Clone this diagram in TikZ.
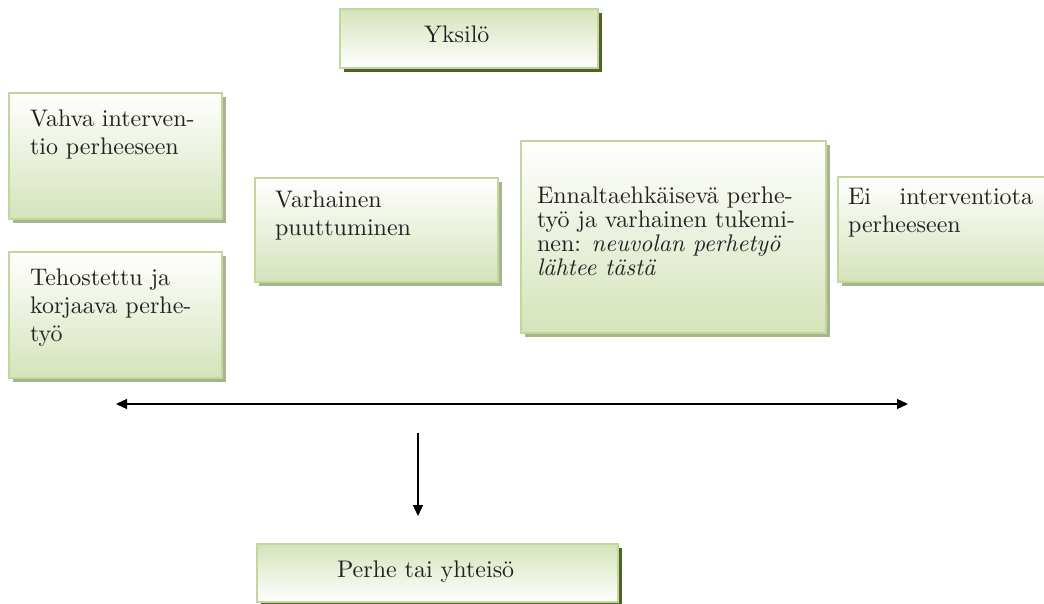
\documentclass[tikz,border=0pt]{standalone}
\usepackage{fontspec}
\setmainfont{lmroman10}[Extension=.otf, UprightFont=*-regular, ItalicFont=*-italic, BoldFont=*-bold, BoldItalicFont=*-bolditalic]
\usetikzlibrary{shadows,arrows.meta}
\definecolor{boxgreen}{HTML}{D5E3BA}
\definecolor{boxborder}{HTML}{C3D69B}
\definecolor{shadowmid}{HTML}{A9B48F}
\definecolor{shadowdark}{HTML}{4F6228}
\definecolor{txt}{HTML}{222222}
% #1 width, #2 height, #3 left padding, #4 first baseline offset, #5 text
\newcommand\bx[5]{\hspace*{#3pt}\parbox[c][#2pt][t]{\dimexpr#1pt-#3pt\relax}{\vspace*{\dimexpr#4pt-16.6pt\relax}\raggedright #5}}
\tikzset{
  box/.style={draw=boxborder, line width=1.5pt, inner sep=0pt, outer sep=0pt,
    font=\fontsize{24}{28}\selectfont, text=txt, anchor=north west},
  midbox/.style={box, top color=white, bottom color=boxgreen,
    drop shadow={shadow xshift=4pt, shadow yshift=-4pt, fill=shadowmid, opacity=1}},
  endbox/.style={box, top color=boxgreen, bottom color=white,
    drop shadow={shadow xshift=4pt, shadow yshift=-4pt, fill=shadowdark, opacity=1}},
  arr/.style={line width=1.3pt, black}
}
\begin{document}
\begin{tikzpicture}[x=1pt,y=-1pt]
\useasboundingbox[fill=white] (0,0) rectangle (1044,604);

\node[endbox] (yksilo) at (340,9) {\bx{258}{59}{84}{33}{Yksilö}};

\node[midbox] (vahva) at (9,93) {\bx{213}{126}{21}{33}{Vahva interven-\\tio perheeseen}};
\node[midbox] (tehostettu) at (9,252) {\bx{213}{126}{21}{33}{Tehostettu ja\\korjaava perhe-\\työ}};
\node[midbox] (varhainen) at (255,178) {\bx{243}{104}{20}{29}{Varhainen\\puuttuminen}};
\node[midbox] (ennalta) at (521,141) {\bx{305}{192}{16}{62}{\fontsize{24}{24}\selectfont Ennaltaehkäisevä perhe-\\työ ja varhainen tukemi-\\nen: \textit{neuvolan perhetyö}\\\textit{lähtee tästä}}};
\node[midbox] (ei) at (838,177) {\bx{215}{105}{10}{28}{\makebox[185pt][s]{Ei\hfill interventiota}\\perheeseen}};

\node[endbox] (perhe) at (257,544) {\bx{361}{58}{80}{33}{Perhe tai yhteisö}};

\coordinate (hleft) at (116,404);
\coordinate (hright) at (908,404);
\draw[arr, {Triangle[length=11pt,width=10pt]}-{Triangle[length=11pt,width=10pt]}] (hleft) -- (hright);

\coordinate (vtop) at (418,433);
\coordinate (vend) at (418,516);
\draw[arr, -{Triangle[length=11pt,width=10pt]}] (vtop) -- (vend);
\end{tikzpicture}
\end{document}
